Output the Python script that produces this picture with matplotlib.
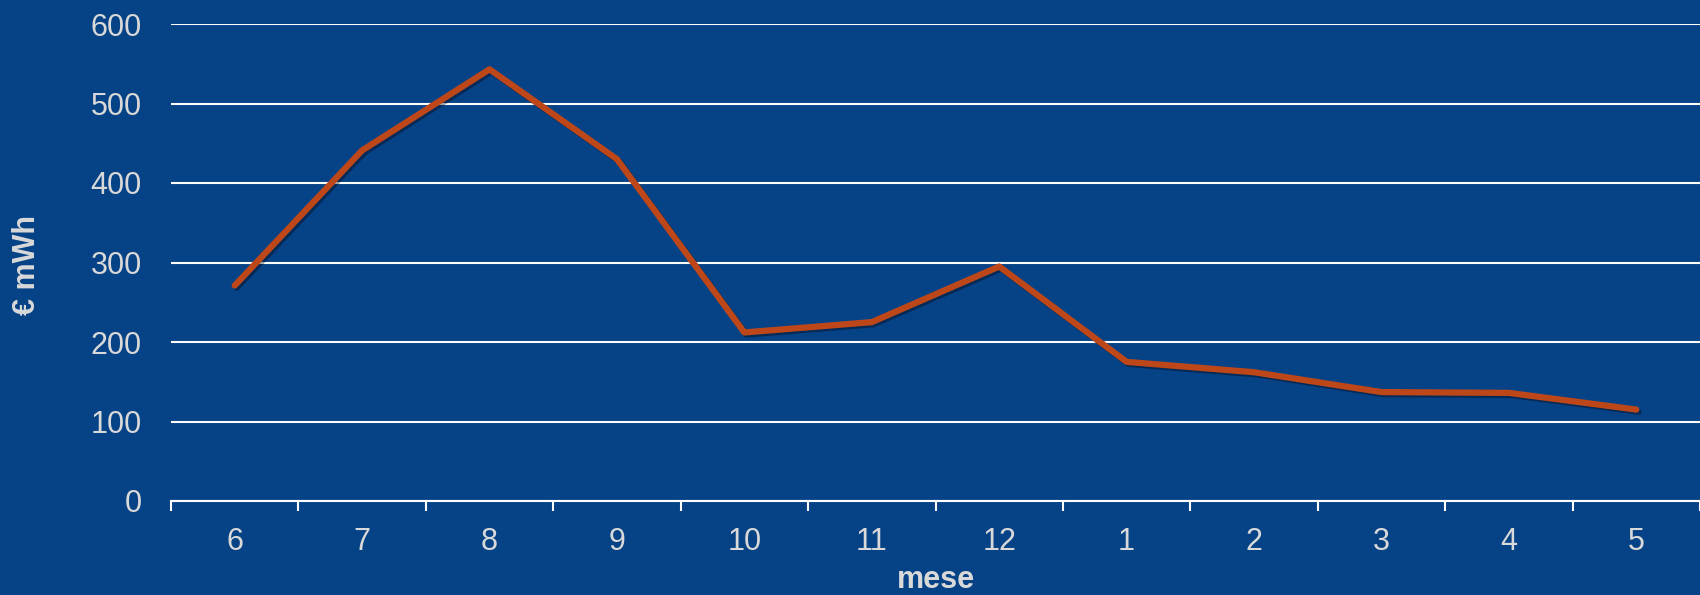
import matplotlib
matplotlib.use("Agg")
import matplotlib.pyplot as plt
import matplotlib.patheffects as pe
import numpy as np

# monthly price, June -> May
months = ['6', '7', '8', '9', '10', '11', '12', '1', '2', '3', '4', '5']
price = [271, 441, 543, 430, 212, 225, 295, 175, 162, 137, 136, 115]
y_ticks = [0, 100, 200, 300, 400, 500, 600]

bg = '#054286'
txt = '#D9D9D9'
line_col = '#BE4719'

plt.rcParams['font.family'] = ['Liberation Sans', 'DejaVu Sans']

fig = plt.figure(figsize=(17, 5.95), dpi=100, facecolor=bg)
ax = fig.add_axes([171/1700, 1 - 501/595, 1 - 171/1700, (501 - 24)/595])
ax.set_facecolor(bg)

x = np.arange(len(months))
ax.plot(x, price, color=line_col, lw=4.5, solid_capstyle='round', zorder=3,
        path_effects=[pe.SimpleLineShadow(offset=(1.5, -1.5), shadow_color='k', alpha=0.35),
                      pe.Normal()])

ax.set_xlim(-0.5, len(months) - 0.5)
ax.set_ylim(0, 600)
ax.set_yticks(y_ticks)
ax.set_xticks(x)
ax.set_xticklabels(months)
ax.set_xticks(np.arange(-0.5, len(months)), minor=True)

ax.grid(axis='y', color='white', lw=1.5, zorder=1)
ax.set_axisbelow(True)
for s in ['left', 'top', 'right']:
    ax.spines[s].set_visible(False)
ax.spines['bottom'].set_color('white')
ax.spines['bottom'].set_linewidth(1.5)
ax.spines['bottom'].set_zorder(2)

ax.tick_params(axis='x', which='major', length=0, pad=18.5, labelsize=22, labelcolor=txt)
ax.tick_params(axis='x', which='minor', length=7, width=1.5, color='white')
ax.tick_params(axis='y', length=0, pad=21, labelsize=22, labelcolor=txt)

fig.text(27/1700, 0.555, '€ mWh', rotation=90, ha='center', va='center',
         fontsize=22, fontweight='bold', color=txt)
fig.text((171 + 1700) / 2 / 1700, 1 - 588/595, 'mese', ha='center', va='baseline',
         fontsize=22, fontweight='bold', color=txt)

fig.savefig('out.png', dpi=100, facecolor=bg)
